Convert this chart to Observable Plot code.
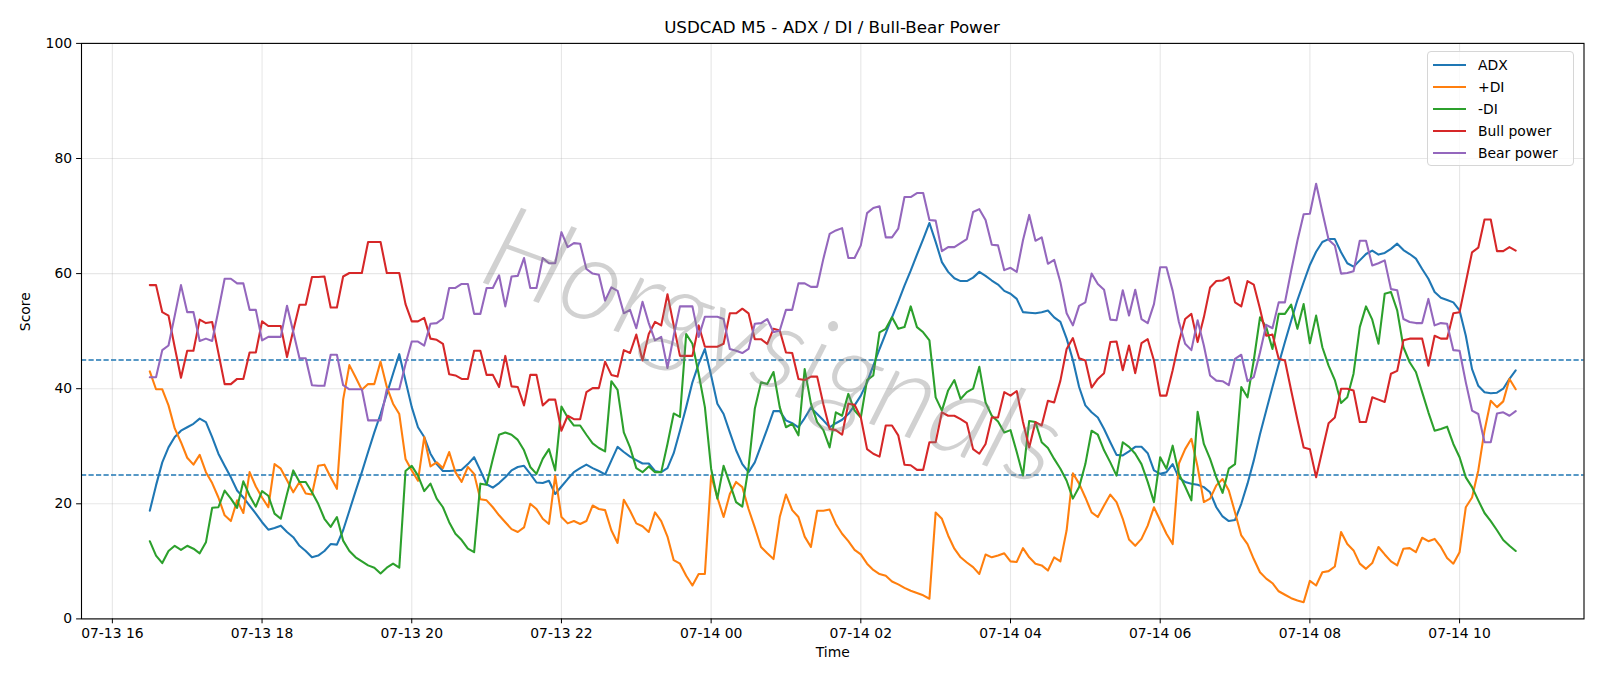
<!DOCTYPE html>
<html>
<head>
<meta charset="utf-8">
<script src="https://cdn.jsdelivr.net/npm/d3@7"></script>
<script src="https://cdn.jsdelivr.net/npm/@observablehq/plot@0.6"></script>
<style>
  body { margin: 0; background: #fff; font-family: "DejaVu Sans", sans-serif; }
  #wrap { position: relative; width: 1600px; height: 686px; overflow: hidden; }
  #title { position: absolute; top: 17px; left: 832px; transform: translateX(-50%); z-index: 3;
           font-size: 16.7px; line-height: 20px; white-space: nowrap; color: #000; }
  #chart { position: absolute; top: 30px; left: 0; z-index: 1; }
  #legend { position: absolute; left: 1427px; top: 51px; width: 147px; height: 115px; z-index: 2;
            box-sizing: border-box; border: 1px solid #d6d6d6; border-radius: 4px;
            background: rgba(255,255,255,0.8); }
  .row { position: absolute; left: 0; height: 20px; width: 145px; }
  .swatch { position: absolute; left: 5px; top: 9px; width: 33px; height: 2.1px; }
  .lab { position: absolute; left: 50px; top: 1px; font-size: 13.9px; line-height: 18px; color: #000; white-space: nowrap; }
</style>
</head>
<body>
<div id="wrap">
  <div id="title">USDCAD M5 - ADX / DI / Bull-Bear Power</div>
  <div id="chart"></div>
  <div id="legend"></div>
</div>
<script>
// 5-minute bars, first bar 07-13 16:30
const firstBar = "2025-07-13T16:30:00Z";
const barMinutes = 5;

const seriesNames = ["ADX", "+DI", "-DI", "Bull power", "Bear power"];
const seriesColors = ["#1f77b4", "#ff7f0e", "#2ca02c", "#d62728", "#9467bd"];

const adx = [
  18.8, 23.2, 27.2, 29.8, 31.6, 32.7, 33.3, 33.9, 34.8, 34.2,
  31.6, 28.7, 26.6, 24.6, 22.3, 21.1, 19.7, 18.3, 16.8, 15.5,
  15.8, 16.2, 15.1, 14.2, 12.7, 11.8, 10.7, 11.0, 11.8, 13.0,
  12.9, 15.4, 18.8, 22.2, 25.5, 29.0, 32.4, 35.6, 39.1, 42.6,
  46.0, 41.4, 36.8, 33.3, 31.6, 28.7, 26.9, 25.7, 25.7, 25.8,
  25.9, 26.9, 28.1, 25.8, 23.4, 22.8, 23.6, 24.6, 25.8, 26.4,
  26.6, 25.2, 23.7, 23.6, 24.0, 21.7, 23.0, 24.3, 25.5, 26.2,
  26.8, 26.2, 25.7, 25.1, 27.5, 29.9, 29.0, 28.2, 27.6, 27.0,
  27.0, 25.7, 25.5, 26.2, 28.8, 32.7, 36.8, 41.1, 44.3, 46.9,
  42.3, 37.4, 35.6, 32.4, 29.3, 26.9, 25.5, 27.2, 30.1, 33.0,
  36.1, 36.1, 34.5, 34.0, 33.3, 34.9, 36.7, 35.6, 34.5, 33.3,
  34.0, 34.6, 35.6, 37.1, 38.8, 41.1, 44.0, 46.9, 49.6, 52.4,
  55.1, 57.9, 60.5, 63.3, 66.0, 68.8, 65.5, 62.0, 60.3, 59.2,
  58.7, 58.7, 59.3, 60.3, 59.6, 58.8, 58.1, 57.0, 56.5, 55.6,
  53.3, 53.2, 53.1, 53.3, 53.6, 52.4, 51.6, 48.7, 45.0, 40.3,
  37.1, 35.9, 35.0, 33.0, 30.7, 28.5, 28.4, 29.1, 29.9, 29.9,
  28.8, 25.8, 25.2, 25.5, 26.9, 24.5, 23.8, 23.5, 23.3, 22.9,
  22.0, 19.4, 17.8, 17.0, 17.2, 20.0, 23.5, 27.5, 32.1, 36.2,
  40.3, 44.3, 48.1, 51.8, 55.4, 58.5, 61.5, 63.8, 65.5, 66.0,
  66.0, 63.7, 61.8, 61.2, 62.3, 63.4, 64.0, 63.3, 63.6, 64.3,
  65.2, 64.1, 63.4, 62.6, 60.8, 59.1, 56.8, 55.8, 55.4, 55.0,
  53.6, 49.2, 43.4, 40.5, 39.4, 39.2, 39.3, 40.0, 41.7, 43.2
];

const plusDI = [
  43.0, 39.9, 39.9, 37.1, 33.1, 30.7, 28.0, 26.8, 28.5, 25.5,
  23.6, 21.1, 18.0, 17.0, 20.6, 18.4, 25.5, 23.0, 21.1, 19.4,
  26.9, 26.1, 24.1, 22.0, 23.8, 21.8, 21.6, 26.6, 26.8, 24.6,
  22.6, 38.1, 44.1, 42.0, 39.8, 40.8, 40.8, 44.7, 40.3, 37.4,
  35.6, 27.8, 25.8, 24.0, 31.6, 26.5, 27.2, 26.2, 29.0, 25.5,
  23.8, 26.4, 25.2, 20.8, 20.6, 19.4, 18.0, 16.8, 15.6, 15.1,
  15.9, 20.0, 19.1, 17.4, 16.5, 24.9, 17.7, 16.6, 17.0, 16.5,
  17.0, 19.7, 19.1, 18.9, 15.4, 13.2, 20.7, 18.8, 16.6, 16.1,
  15.1, 18.5, 17.0, 14.3, 10.2, 9.6, 7.5, 5.8, 7.8, 7.8,
  24.9, 21.1, 17.7, 21.7, 23.8, 22.9, 19.1, 15.9, 12.5, 11.4,
  10.4, 17.7, 21.6, 18.9, 17.7, 14.3, 12.5, 18.8, 18.8, 19.0,
  16.5, 14.8, 13.5, 12.0, 11.2, 9.6, 8.5, 7.8, 7.5, 6.5,
  6.0, 5.4, 4.9, 4.5, 4.1, 3.5, 18.5, 17.4, 14.5, 12.2,
  10.7, 9.8, 9.0, 7.8, 11.2, 10.7, 11.0, 11.4, 10.0, 9.9,
  12.3, 10.7, 9.6, 9.3, 8.4, 10.7, 10.0, 15.4, 25.3, 23.5,
  21.1, 18.5, 17.7, 19.7, 21.6, 20.3, 17.4, 13.8, 12.7, 13.9,
  16.2, 19.4, 17.1, 14.8, 13.0, 27.0, 29.5, 31.3, 26.4, 20.3,
  20.9, 23.2, 24.3, 22.3, 18.5, 14.5, 13.0, 10.4, 8.1, 7.0,
  6.2, 4.8, 4.2, 3.6, 3.2, 2.9, 6.6, 5.8, 8.1, 8.3,
  9.1, 15.1, 13.0, 11.9, 9.6, 8.7, 9.7, 12.5, 11.2, 10.0,
  9.3, 12.2, 12.3, 11.6, 14.1, 13.5, 13.9, 12.5, 10.6, 9.6,
  11.6, 19.4, 21.1, 25.8, 32.7, 37.9, 36.8, 37.8, 41.7, 39.9
];

const minusDI = [
  13.5, 11.0, 9.7, 11.8, 12.7, 12.0, 12.7, 12.2, 11.4, 13.3,
  19.3, 19.4, 22.3, 20.9, 19.3, 23.9, 21.4, 19.5, 22.2, 21.4,
  18.3, 17.4, 21.7, 25.8, 23.8, 23.8, 22.0, 20.0, 17.4, 16.0,
  17.7, 13.6, 11.8, 10.7, 10.0, 9.3, 8.9, 7.9, 8.9, 9.6,
  8.9, 25.7, 26.6, 24.9, 22.2, 23.5, 20.9, 19.4, 16.8, 14.8,
  13.7, 12.2, 11.6, 23.5, 23.3, 27.8, 32.0, 32.4, 32.0, 31.1,
  29.3, 26.4, 25.2, 27.8, 29.5, 25.8, 36.9, 35.0, 33.6, 33.6,
  32.0, 30.5, 29.7, 29.1, 41.3, 39.8, 32.4, 29.8, 26.2, 25.5,
  26.5, 25.5, 25.5, 30.4, 35.7, 35.1, 49.5, 47.8, 42.6, 36.8,
  26.1, 20.9, 26.6, 23.5, 20.3, 19.5, 26.4, 36.5, 41.1, 40.8,
  42.9, 36.8, 33.3, 33.9, 31.9, 43.4, 37.4, 34.2, 32.8, 29.8,
  35.9, 35.3, 39.1, 36.2, 35.0, 41.5, 42.3, 49.8, 50.4, 52.4,
  50.4, 50.7, 54.3, 50.7, 49.8, 48.4, 38.5, 36.2, 39.7, 41.5,
  38.2, 39.4, 40.0, 43.8, 37.6, 35.3, 34.3, 32.4, 32.8, 29.0,
  24.9, 34.4, 34.2, 30.7, 29.7, 27.8, 26.1, 24.0, 20.9, 22.9,
  26.9, 32.7, 32.0, 29.3, 27.2, 24.9, 30.7, 29.9, 28.7, 26.9,
  23.8, 20.3, 28.1, 26.1, 30.1, 25.2, 23.0, 20.6, 36.0, 30.4,
  27.8, 24.6, 21.9, 26.1, 26.9, 40.3, 38.5, 44.9, 52.4, 50.7,
  46.9, 53.0, 53.0, 54.6, 50.4, 54.7, 47.9, 52.7, 47.2, 44.0,
  41.5, 37.5, 38.5, 42.6, 50.7, 54.3, 52.0, 47.8, 56.5, 56.8,
  53.6, 47.2, 44.6, 42.9, 39.4, 35.9, 32.7, 33.0, 33.4, 30.4,
  28.1, 24.6, 22.9, 20.6, 18.4, 17.0, 15.4, 13.7, 12.7, 11.8
];

const bullPower = [
  58.0, 58.0, 53.3, 52.7, 47.2, 41.9, 46.6, 46.6, 52.0, 51.4,
  51.6, 46.2, 40.8, 40.8, 41.7, 41.7, 46.3, 46.3, 51.7, 50.9,
  50.9, 50.9, 45.5, 50.1, 54.6, 54.6, 59.4, 59.4, 59.5, 54.1,
  54.1, 59.5, 60.1, 60.1, 60.1, 65.5, 65.5, 65.5, 60.1, 60.1,
  60.1, 54.7, 51.7, 51.7, 52.3, 48.7, 48.5, 47.8, 42.5, 42.3,
  41.7, 41.7, 46.6, 46.6, 42.4, 42.4, 40.3, 45.7, 40.4, 40.3,
  37.1, 42.4, 42.4, 37.1, 38.1, 38.1, 32.7, 35.3, 34.7, 34.7,
  39.4, 40.1, 40.1, 44.7, 42.4, 42.1, 46.7, 46.2, 49.4, 44.9,
  49.5, 51.6, 51.0, 56.4, 51.0, 45.7, 45.7, 45.7, 51.0, 47.3,
  47.3, 47.3, 47.8, 53.1, 53.1, 53.9, 53.1, 48.6, 48.6, 47.8,
  50.4, 50.1, 46.3, 46.2, 41.7, 41.5, 42.1, 42.1, 37.3, 33.0,
  32.8, 32.0, 37.4, 37.2, 35.0, 29.5, 28.7, 28.2, 33.6, 33.6,
  31.9, 26.8, 26.7, 25.9, 25.9, 30.7, 30.7, 35.9, 35.3, 35.3,
  34.7, 34.0, 29.5, 28.7, 30.4, 35.0, 35.0, 39.4, 38.8, 39.6,
  34.2, 29.8, 34.2, 33.6, 37.9, 37.6, 41.4, 46.9, 48.8, 45.3,
  44.9, 40.2, 41.7, 42.7, 48.1, 48.2, 43.2, 47.5, 42.7, 47.9,
  48.6, 44.9, 38.8, 38.8, 43.2, 48.1, 52.1, 53.0, 48.1, 52.4,
  57.6, 58.7, 58.8, 59.4, 55.0, 54.3, 58.7, 58.1, 53.9, 49.2,
  49.4, 45.2, 44.9, 39.7, 34.6, 29.8, 29.5, 24.6, 29.3, 34.0,
  35.0, 40.0, 40.0, 39.7, 34.2, 34.2, 38.5, 38.1, 37.7, 42.6,
  43.1, 48.4, 48.7, 48.7, 48.7, 44.0, 49.2, 48.7, 48.7, 53.1,
  53.3, 58.5, 63.7, 64.5, 69.4, 69.4, 63.9, 63.9, 64.6, 64.0
];

const bearPower = [
  42.0, 42.0, 46.7, 47.5, 52.7, 58.0, 53.3, 53.3, 48.3, 48.7,
  48.3, 53.6, 59.1, 59.1, 58.3, 58.3, 53.7, 53.7, 48.4, 49.0,
  49.0, 49.0, 54.4, 49.9, 45.3, 45.3, 40.6, 40.5, 40.5, 45.9,
  45.9, 40.6, 39.9, 39.9, 39.9, 34.5, 34.5, 34.5, 39.9, 39.9,
  39.9, 44.3, 48.2, 48.2, 47.5, 51.3, 51.4, 52.2, 57.5, 57.5,
  58.2, 58.2, 53.0, 53.0, 57.5, 57.5, 59.7, 54.3, 59.5, 59.6,
  62.7, 57.5, 57.5, 62.7, 61.8, 61.8, 67.2, 64.6, 65.3, 65.2,
  60.8, 60.0, 59.8, 55.3, 57.6, 57.0, 53.1, 53.7, 50.5, 55.1,
  51.4, 48.4, 49.0, 43.6, 49.2, 54.3, 54.3, 54.3, 49.0, 52.5,
  52.5, 52.5, 52.1, 46.9, 46.6, 46.2, 46.9, 51.3, 51.4, 52.1,
  49.8, 50.1, 53.7, 53.7, 58.3, 58.3, 57.7, 57.7, 62.6, 66.9,
  67.5, 67.9, 62.7, 62.7, 64.9, 70.5, 71.4, 71.7, 66.3, 66.3,
  67.8, 73.3, 73.3, 74.0, 74.0, 69.3, 69.2, 63.9, 64.6, 64.6,
  65.3, 66.0, 70.7, 71.2, 69.3, 65.0, 64.9, 60.6, 61.0, 60.3,
  65.8, 70.2, 65.7, 66.3, 61.7, 62.4, 58.5, 53.1, 51.0, 54.4,
  55.0, 60.0, 58.2, 57.2, 52.0, 51.9, 57.1, 52.7, 57.2, 52.1,
  51.4, 54.7, 61.1, 61.1, 57.0, 51.6, 47.8, 46.7, 51.9, 47.5,
  42.3, 41.4, 41.3, 40.6, 45.2, 45.9, 41.3, 42.0, 46.3, 51.1,
  50.5, 55.0, 55.0, 60.5, 65.7, 70.3, 70.4, 75.6, 70.7, 65.9,
  64.9, 60.0, 60.1, 60.4, 65.7, 65.7, 61.4, 61.8, 62.3, 57.3,
  57.1, 52.1, 51.6, 51.4, 51.4, 55.6, 51.0, 51.4, 51.3, 46.7,
  46.6, 41.1, 36.2, 35.6, 30.7, 30.7, 35.7, 35.9, 35.3, 36.1
];

// reference levels drawn as dashed lines
const levels = [25, 45];

const yTicks = [0, 20, 40, 60, 80, 100];
const xTickLabels = [
  "2025-07-13T16:00:00Z", "2025-07-13T18:00:00Z", "2025-07-13T20:00:00Z",
  "2025-07-13T22:00:00Z", "2025-07-14T00:00:00Z", "2025-07-14T02:00:00Z",
  "2025-07-14T04:00:00Z", "2025-07-14T06:00:00Z", "2025-07-14T08:00:00Z",
  "2025-07-14T10:00:00Z"
];
const watermarkText = "Horgysignals";

// ---- build tables ----
const t0 = new Date(firstBar).getTime();
const times = adx.map((_, i) => new Date(t0 + i * barMinutes * 60000));
const allSeries = [adx, plusDI, minusDI, bullPower, bearPower];
const tables = allSeries.map(vals => vals.map((v, i) => ({t: times[i], v})));

const xTicks = xTickLabels.map(s => new Date(s));
const span = times[times.length - 1] - times[0];
const xDomain = [new Date(+times[0] - 0.05 * span), new Date(+times[times.length - 1] + 0.05 * span)];

const lineMarks = tables.map((tab, k) =>
  Plot.line(tab, {x: "t", y: "v", stroke: seriesColors[k], strokeWidth: 2.08})
);

const chart = Plot.plot({
  width: 1600,
  height: 656,
  marginLeft: 81,
  marginRight: 16.5,
  marginTop: 12.9,
  marginBottom: 67.6,
  style: {fontFamily: "DejaVu Sans", fontSize: "13.9px", color: "#000", background: "transparent", overflow: "visible"},
  x: {type: "utc", domain: xDomain},
  y: {domain: [0, 100]},
  marks: [
    Plot.gridX(xTicks, {stroke: "#b0b0b0", strokeOpacity: 0.3, strokeWidth: 1.1}),
    Plot.gridY(yTicks, {stroke: "#b0b0b0", strokeOpacity: 0.3, strokeWidth: 1.1}),
    Plot.ruleY(levels, {stroke: "#1f77b4", strokeWidth: 1.4, strokeDasharray: "5.2,2.3"}),
    ...lineMarks,
    Plot.frame({stroke: "#000", strokeWidth: 1.1}),
    Plot.axisX(xTicks, {tickFormat: d3.utcFormat("%m-%d %H"), tickSize: 4.9, tickPadding: 4.5, label: null}),
    Plot.axisY(yTicks, {tickSize: 4.9, tickPadding: 4.5, label: null}),
    Plot.text(["Score"], {frameAnchor: "left", dx: -55.5, rotate: -90, fontSize: 13.9}),
    Plot.text(["Time"], {frameAnchor: "bottom", dy: 37.6, fontSize: 13.9}),
    Plot.text([watermarkText], {frameAnchor: "middle", dx: -60, dy: 17, rotate: 20,
      fontSize: 118, fontFamily: "Lato", fontStyle: "italic", fontWeight: 300,
      fill: "#808080", fillOpacity: 0.36})
  ]
});
document.getElementById("chart").appendChild(chart);

// legend
const legend = document.getElementById("legend");
seriesNames.forEach((name, k) => {
  const row = document.createElement("div");
  row.className = "row";
  row.style.top = (3 + k * 21.9) + "px";
  const sw = document.createElement("div");
  sw.className = "swatch";
  sw.style.background = seriesColors[k];
  const lab = document.createElement("div");
  lab.className = "lab";
  lab.textContent = name;
  row.appendChild(sw);
  row.appendChild(lab);
  legend.appendChild(row);
});
</script>
</body>
</html>
